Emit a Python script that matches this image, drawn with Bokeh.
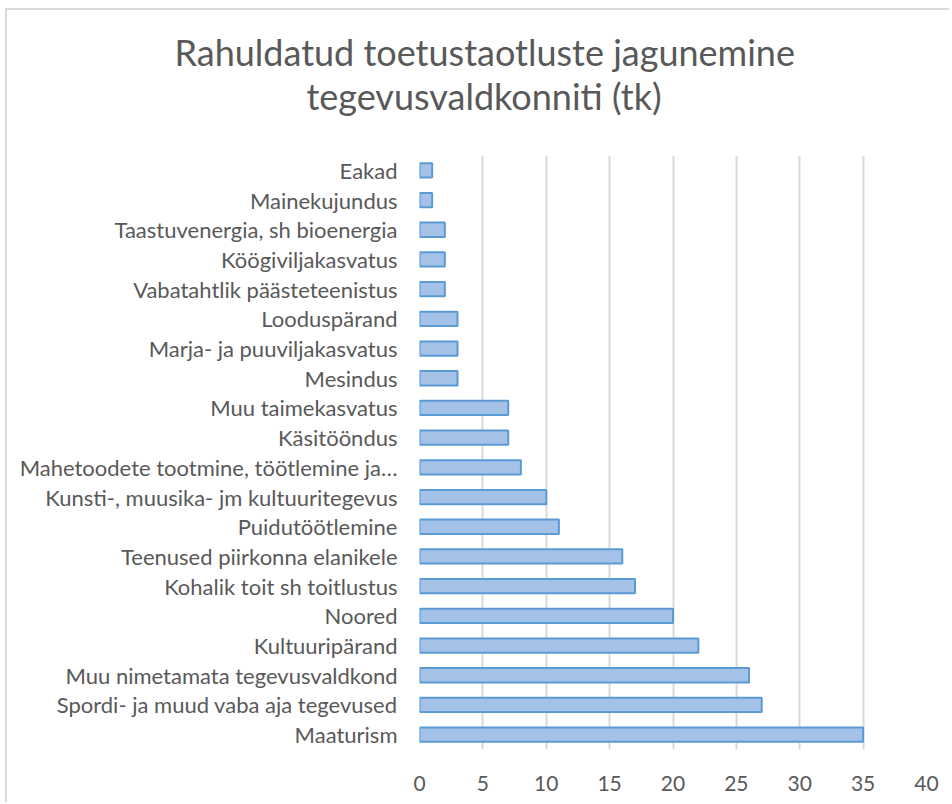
from bokeh.plotting import figure
from bokeh.models import Title, FixedTicker
from bokeh.embed import file_html
from bokeh.resources import INLINE

categories = [
    "Maaturism",
    "Spordi- ja muud vaba aja tegevused",
    "Muu nimetamata tegevusvaldkond",
    "Kultuuripärand",
    "Noored",
    "Kohalik toit sh toitlustus",
    "Teenused piirkonna elanikele",
    "Puidutöötlemine",
    "Kunsti-, muusika- jm kultuuritegevus",
    "Mahetoodete tootmine, töötlemine ja…",
    "Käsitööndus",
    "Muu taimekasvatus",
    "Mesindus",
    "Marja- ja puuviljakasvatus",
    "Looduspärand",
    "Vabatahtlik päästeteenistus",
    "Köögiviljakasvatus",
    "Taastuvenergia, sh bioenergia",
    "Mainekujundus",
    "Eakad",
]
counts = [35, 27, 26, 22, 20, 17, 16, 11, 10, 8, 7, 7, 3, 3, 3, 2, 2, 2, 1, 1]
x_ticks = [0, 5, 10, 15, 20, 25, 30, 35, 40]
title_lines = ["Rahuldatud toetustaotluste jagunemine", "tegevusvaldkonniti (tk)"]

FONT = "Lato"
GRAY = "#595959"

p = figure(
    y_range=categories,
    x_range=(0, 40),
    width=944,
    height=794,
    output_backend="svg",
    toolbar_location=None,
    min_border_left=412,
    min_border_right=25,
    min_border_top=145,
    min_border_bottom=55,
)
p.title = None

p.hbar(y=categories, right=counts, left=0, height=0.48,
       fill_color="#a4c1e8", line_color="#5b9bd5", line_width=2)

t2 = Title(text=title_lines[1], align="left", text_font=FONT,
           text_font_size="36px", text_font_style="normal", text_color=GRAY,
           standoff=76, offset=-113)
t1 = Title(text=title_lines[0], align="left", text_font=FONT,
           text_font_size="36px", text_font_style="normal", text_color=GRAY,
           standoff=-80, offset=-245)
p.add_layout(t2, "above")
p.add_layout(t1, "above")

p.xaxis.ticker = FixedTicker(ticks=x_ticks)
p.xaxis.axis_line_color = None
p.xaxis.major_tick_line_color = None
p.xaxis.minor_tick_line_color = None
p.xaxis.major_label_standoff = 20
p.xaxis.major_label_text_font = FONT
p.xaxis.major_label_text_font_size = "21px"
p.xaxis.major_label_text_color = GRAY

p.yaxis.axis_line_color = None
p.yaxis.major_tick_line_color = None
p.yaxis.minor_tick_line_color = None
p.yaxis.major_label_standoff = 16
p.yaxis.major_label_text_font = FONT
p.yaxis.major_label_text_font_size = "22px"
p.yaxis.major_label_text_color = GRAY

p.xgrid.grid_line_color = "#d9d9d9"
p.xgrid.grid_line_width = 2
p.ygrid.grid_line_color = None
p.outline_line_color = None
p.y_range.range_padding = 0

p.styles = {"border-top": "2px solid #d9d9d9", "border-left": "2px solid #d9d9d9",
            "margin-left": "5px", "margin-top": "8px"}

open("out.html", "w").write(file_html(p, INLINE))
